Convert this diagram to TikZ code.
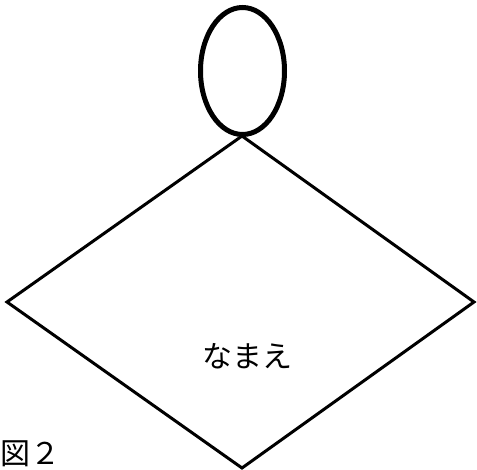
\documentclass[tikz,border=0pt]{standalone}
\usepackage{fontspec}
\newfontfamily\cjk{Noto Sans CJK JP}
\begin{document}
\begin{tikzpicture}[x=1pt,y=-1pt,
  head/.style={draw, line width=5pt},
  body/.style={draw, line width=3pt, line join=miter},
  lbl/.style={font=\cjk\fontsize{30}{36}\selectfont, inner sep=0pt}]
\useasboundingbox (0,0) rectangle (477,470);
\draw[head] (242.5,71) ellipse [x radius=42, y radius=63.5];
\coordinate (t) at (242,136);
\coordinate (r) at (474,302);
\coordinate (b) at (242,468);
\coordinate (l) at (7,302);
\draw[body] (t) -- (r) -- (b) -- (l) -- cycle;
\node[lbl] (name) at (247,356) {なまえ};
\node[lbl, anchor=west] (fig) at (0,454) {図２};
\end{tikzpicture}
\end{document}
